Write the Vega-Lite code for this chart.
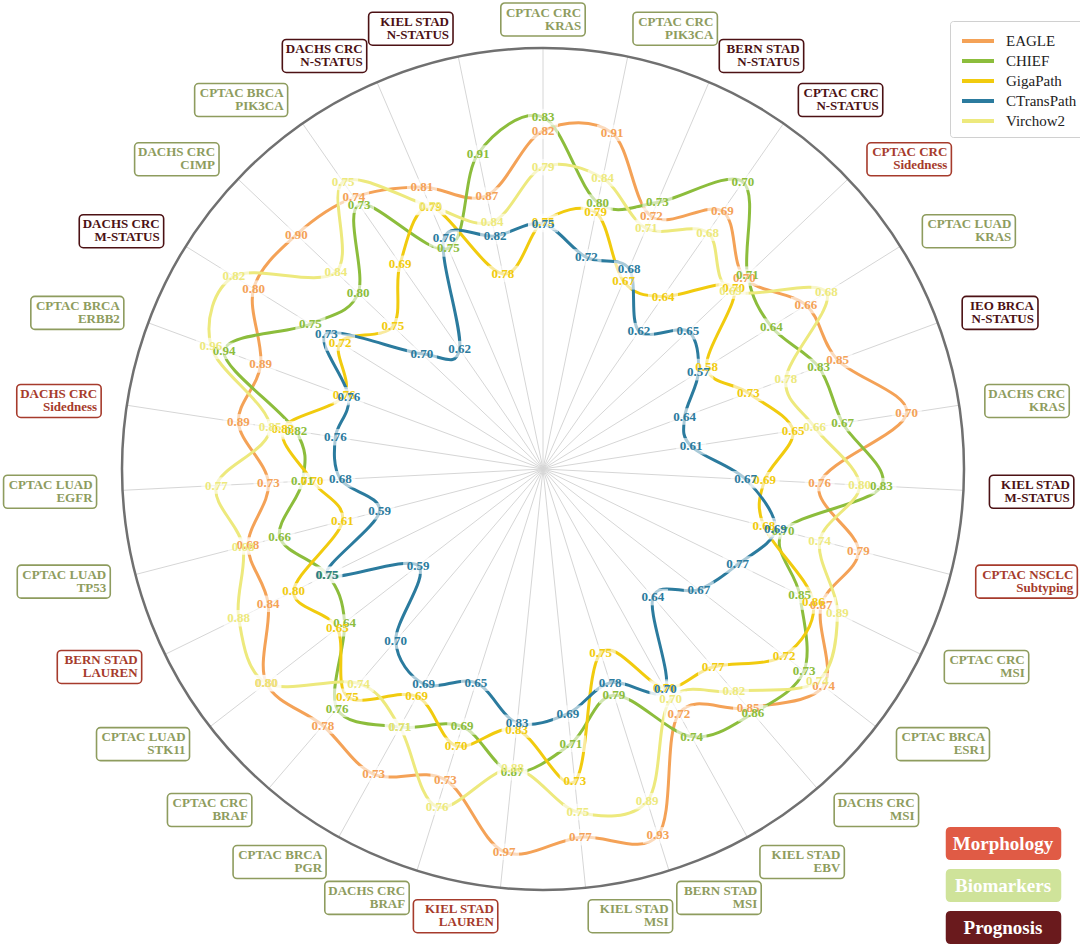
{
  "$schema": "https://vega.github.io/schema/vega-lite/v6.json",
  "width": 1080,
  "height": 946,
  "padding": 0,
  "autosize": {"type": "none"},
  "background": "white",
  "config": {"view": {"stroke": null}, "font": "Liberation Serif"},
  "resolve": {"scale": {"color": "independent"}, "legend": {"color": "independent"}},
  "datasets": {
    "tasks": [
      {"k": 1, "l1": "CPTAC CRC", "l2": "KRAS", "type": "Biomarkers"},
      {"k": 2, "l1": "CPTAC CRC", "l2": "PIK3CA", "type": "Biomarkers"},
      {"k": 3, "l1": "BERN STAD", "l2": "N-STATUS", "type": "Prognosis"},
      {"k": 4, "l1": "CPTAC CRC", "l2": "N-STATUS", "type": "Prognosis"},
      {"k": 5, "l1": "CPTAC CRC", "l2": "Sidedness", "type": "Morphology"},
      {"k": 6, "l1": "CPTAC LUAD", "l2": "KRAS", "type": "Biomarkers"},
      {"k": 7, "l1": "IEO BRCA", "l2": "N-STATUS", "type": "Prognosis"},
      {"k": 8, "l1": "DACHS CRC", "l2": "KRAS", "type": "Biomarkers"},
      {"k": 9, "l1": "KIEL STAD", "l2": "M-STATUS", "type": "Prognosis"},
      {"k": 10, "l1": "CPTAC NSCLC", "l2": "Subtyping", "type": "Morphology"},
      {"k": 11, "l1": "CPTAC CRC", "l2": "MSI", "type": "Biomarkers"},
      {"k": 12, "l1": "CPTAC BRCA", "l2": "ESR1", "type": "Biomarkers"},
      {"k": 13, "l1": "DACHS CRC", "l2": "MSI", "type": "Biomarkers"},
      {"k": 14, "l1": "KIEL STAD", "l2": "EBV", "type": "Biomarkers"},
      {"k": 15, "l1": "BERN STAD", "l2": "MSI", "type": "Biomarkers"},
      {"k": 16, "l1": "KIEL STAD", "l2": "MSI", "type": "Biomarkers"},
      {"k": 17, "l1": "KIEL STAD", "l2": "LAUREN", "type": "Morphology"},
      {"k": 18, "l1": "DACHS CRC", "l2": "BRAF", "type": "Biomarkers"},
      {"k": 19, "l1": "CPTAC BRCA", "l2": "PGR", "type": "Biomarkers"},
      {"k": 20, "l1": "CPTAC CRC", "l2": "BRAF", "type": "Biomarkers"},
      {"k": 21, "l1": "CPTAC LUAD", "l2": "STK11", "type": "Biomarkers"},
      {"k": 22, "l1": "BERN STAD", "l2": "LAUREN", "type": "Morphology"},
      {"k": 23, "l1": "CPTAC LUAD", "l2": "TP53", "type": "Biomarkers"},
      {"k": 24, "l1": "CPTAC LUAD", "l2": "EGFR", "type": "Biomarkers"},
      {"k": 25, "l1": "DACHS CRC", "l2": "Sidedness", "type": "Morphology"},
      {"k": 26, "l1": "CPTAC BRCA", "l2": "ERBB2", "type": "Biomarkers"},
      {"k": 27, "l1": "DACHS CRC", "l2": "M-STATUS", "type": "Prognosis"},
      {"k": 28, "l1": "DACHS CRC", "l2": "CIMP", "type": "Biomarkers"},
      {"k": 29, "l1": "CPTAC BRCA", "l2": "PIK3CA", "type": "Biomarkers"},
      {"k": 30, "l1": "DACHS CRC", "l2": "N-STATUS", "type": "Prognosis"},
      {"k": 31, "l1": "KIEL STAD", "l2": "N-STATUS", "type": "Prognosis"}
    ],
    "scores": [
      {"k": 1, "model": "EAGLE", "auc": 0.82, "radial": 0.803},
      {"k": 2, "model": "EAGLE", "auc": 0.91, "radial": 0.815},
      {"k": 3, "model": "EAGLE", "auc": 0.72, "radial": 0.653},
      {"k": 4, "model": "EAGLE", "auc": 0.69, "radial": 0.746},
      {"k": 5, "model": "EAGLE", "auc": 0.70, "radial": 0.660},
      {"k": 6, "model": "EAGLE", "auc": 0.66, "radial": 0.736},
      {"k": 7, "model": "EAGLE", "auc": 0.85, "radial": 0.746},
      {"k": 8, "model": "EAGLE", "auc": 0.70, "radial": 0.874},
      {"k": 9, "model": "EAGLE", "auc": 0.76, "radial": 0.658},
      {"k": 10, "model": "EAGLE", "auc": 0.79, "radial": 0.774},
      {"k": 11, "model": "EAGLE", "auc": 0.87, "radial": 0.736},
      {"k": 12, "model": "EAGLE", "auc": 0.74, "radial": 0.843},
      {"k": 13, "model": "EAGLE", "auc": 0.85, "radial": 0.748},
      {"k": 14, "model": "EAGLE", "auc": 0.72, "radial": 0.665},
      {"k": 15, "model": "EAGLE", "auc": 0.93, "radial": 0.912},
      {"k": 16, "model": "EAGLE", "auc": 0.77, "radial": 0.879},
      {"k": 17, "model": "EAGLE", "auc": 0.97, "radial": 0.914},
      {"k": 18, "model": "EAGLE", "auc": 0.73, "radial": 0.774},
      {"k": 19, "model": "EAGLE", "auc": 0.73, "radial": 0.829},
      {"k": 20, "model": "EAGLE", "auc": 0.78, "radial": 0.803},
      {"k": 21, "model": "EAGLE", "auc": 0.80, "radial": 0.831},
      {"k": 22, "model": "EAGLE", "auc": 0.84, "radial": 0.727},
      {"k": 23, "model": "EAGLE", "auc": 0.68, "radial": 0.724},
      {"k": 24, "model": "EAGLE", "auc": 0.73, "radial": 0.653},
      {"k": 25, "model": "EAGLE", "auc": 0.89, "radial": 0.732},
      {"k": 26, "model": "EAGLE", "auc": 0.89, "radial": 0.715},
      {"k": 27, "model": "EAGLE", "auc": 0.80, "radial": 0.810},
      {"k": 28, "model": "EAGLE", "auc": 0.90, "radial": 0.808},
      {"k": 29, "model": "EAGLE", "auc": 0.74, "radial": 0.786},
      {"k": 30, "model": "EAGLE", "auc": 0.81, "radial": 0.729},
      {"k": 31, "model": "EAGLE", "auc": 0.87, "radial": 0.663},
      {"k": 1, "model": "CHIEF", "auc": 0.83, "radial": 0.836},
      {"k": 2, "model": "CHIEF", "auc": 0.80, "radial": 0.646},
      {"k": 3, "model": "CHIEF", "auc": 0.73, "radial": 0.689},
      {"k": 4, "model": "CHIEF", "auc": 0.70, "radial": 0.831},
      {"k": 5, "model": "CHIEF", "auc": 0.71, "radial": 0.670},
      {"k": 6, "model": "CHIEF", "auc": 0.64, "radial": 0.639},
      {"k": 7, "model": "CHIEF", "auc": 0.83, "radial": 0.698},
      {"k": 8, "model": "CHIEF", "auc": 0.67, "radial": 0.720},
      {"k": 9, "model": "CHIEF", "auc": 0.83, "radial": 0.805},
      {"k": 10, "model": "CHIEF", "auc": 0.70, "radial": 0.589},
      {"k": 11, "model": "CHIEF", "auc": 0.85, "radial": 0.679},
      {"k": 12, "model": "CHIEF", "auc": 0.73, "radial": 0.784},
      {"k": 13, "model": "CHIEF", "auc": 0.86, "radial": 0.765},
      {"k": 14, "model": "CHIEF", "auc": 0.74, "radial": 0.727},
      {"k": 15, "model": "CHIEF", "auc": 0.79, "radial": 0.563},
      {"k": 16, "model": "CHIEF", "auc": 0.71, "radial": 0.656},
      {"k": 17, "model": "CHIEF", "auc": 0.87, "radial": 0.724},
      {"k": 18, "model": "CHIEF", "auc": 0.69, "radial": 0.641},
      {"k": 19, "model": "CHIEF", "auc": 0.71, "radial": 0.701},
      {"k": 20, "model": "CHIEF", "auc": 0.76, "radial": 0.751},
      {"k": 21, "model": "CHIEF", "auc": 0.64, "radial": 0.596},
      {"k": 22, "model": "CHIEF", "auc": 0.75, "radial": 0.570},
      {"k": 23, "model": "CHIEF", "auc": 0.66, "radial": 0.646},
      {"k": 24, "model": "CHIEF", "auc": 0.71, "radial": 0.572},
      {"k": 25, "model": "CHIEF", "auc": 0.82, "radial": 0.594},
      {"k": 26, "model": "CHIEF", "auc": 0.94, "radial": 0.808},
      {"k": 27, "model": "CHIEF", "auc": 0.75, "radial": 0.651},
      {"k": 28, "model": "CHIEF", "auc": 0.80, "radial": 0.606},
      {"k": 29, "model": "CHIEF", "auc": 0.73, "radial": 0.765},
      {"k": 30, "model": "CHIEF", "auc": 0.75, "radial": 0.570},
      {"k": 31, "model": "CHIEF", "auc": 0.91, "radial": 0.765},
      {"k": 1, "model": "GigaPath", "auc": 0.75, "radial": 0.587},
      {"k": 2, "model": "GigaPath", "auc": 0.79, "radial": 0.622},
      {"k": 3, "model": "GigaPath", "auc": 0.67, "radial": 0.485},
      {"k": 4, "model": "GigaPath", "auc": 0.64, "radial": 0.499},
      {"k": 5, "model": "GigaPath", "auc": 0.70, "radial": 0.625},
      {"k": 6, "model": "GigaPath", "auc": 0.58, "radial": 0.458},
      {"k": 7, "model": "GigaPath", "auc": 0.73, "radial": 0.520},
      {"k": 8, "model": "GigaPath", "auc": 0.65, "radial": 0.601},
      {"k": 9, "model": "GigaPath", "auc": 0.69, "radial": 0.527},
      {"k": 10, "model": "GigaPath", "auc": 0.68, "radial": 0.542},
      {"k": 11, "model": "GigaPath", "auc": 0.86, "radial": 0.715},
      {"k": 12, "model": "GigaPath", "auc": 0.72, "radial": 0.724},
      {"k": 13, "model": "GigaPath", "auc": 0.77, "radial": 0.620},
      {"k": 14, "model": "GigaPath", "auc": 0.70, "radial": 0.594},
      {"k": 15, "model": "GigaPath", "auc": 0.75, "radial": 0.458},
      {"k": 16, "model": "GigaPath", "auc": 0.73, "radial": 0.746},
      {"k": 17, "model": "GigaPath", "auc": 0.83, "radial": 0.622},
      {"k": 18, "model": "GigaPath", "auc": 0.70, "radial": 0.689},
      {"k": 19, "model": "GigaPath", "auc": 0.69, "radial": 0.618},
      {"k": 20, "model": "GigaPath", "auc": 0.75, "radial": 0.713},
      {"k": 21, "model": "GigaPath", "auc": 0.65, "radial": 0.618},
      {"k": 22, "model": "GigaPath", "auc": 0.80, "radial": 0.660},
      {"k": 23, "model": "GigaPath", "auc": 0.61, "radial": 0.492},
      {"k": 24, "model": "GigaPath", "auc": 0.70, "radial": 0.549},
      {"k": 25, "model": "GigaPath", "auc": 0.83, "radial": 0.625},
      {"k": 26, "model": "GigaPath", "auc": 0.76, "radial": 0.504},
      {"k": 27, "model": "GigaPath", "auc": 0.72, "radial": 0.568},
      {"k": 28, "model": "GigaPath", "auc": 0.75, "radial": 0.492},
      {"k": 29, "model": "GigaPath", "auc": 0.69, "radial": 0.594},
      {"k": 30, "model": "GigaPath", "auc": 0.79, "radial": 0.677},
      {"k": 31, "model": "GigaPath", "auc": 0.78, "radial": 0.473},
      {"k": 1, "model": "CTransPath", "auc": 0.75, "radial": 0.582},
      {"k": 2, "model": "CTransPath", "auc": 0.72, "radial": 0.513},
      {"k": 3, "model": "CTransPath", "auc": 0.68, "radial": 0.518},
      {"k": 4, "model": "CTransPath", "auc": 0.62, "radial": 0.399},
      {"k": 5, "model": "CTransPath", "auc": 0.65, "radial": 0.475},
      {"k": 6, "model": "CTransPath", "auc": 0.57, "radial": 0.435},
      {"k": 7, "model": "CTransPath", "auc": 0.64, "radial": 0.359},
      {"k": 8, "model": "CTransPath", "auc": 0.61, "radial": 0.356},
      {"k": 9, "model": "CTransPath", "auc": 0.67, "radial": 0.482},
      {"k": 10, "model": "CTransPath", "auc": 0.69, "radial": 0.570},
      {"k": 11, "model": "CTransPath", "auc": 0.77, "radial": 0.515},
      {"k": 12, "model": "CTransPath", "auc": 0.67, "radial": 0.468},
      {"k": 13, "model": "CTransPath", "auc": 0.64, "radial": 0.401},
      {"k": 14, "model": "CTransPath", "auc": 0.70, "radial": 0.599},
      {"k": 15, "model": "CTransPath", "auc": 0.78, "radial": 0.532},
      {"k": 16, "model": "CTransPath", "auc": 0.69, "radial": 0.584},
      {"k": 17, "model": "CTransPath", "auc": 0.83, "radial": 0.606},
      {"k": 18, "model": "CTransPath", "auc": 0.65, "radial": 0.532},
      {"k": 19, "model": "CTransPath", "auc": 0.69, "radial": 0.584},
      {"k": 20, "model": "CTransPath", "auc": 0.70, "radial": 0.537},
      {"k": 21, "model": "CTransPath", "auc": 0.59, "radial": 0.375},
      {"k": 22, "model": "CTransPath", "auc": 0.75, "radial": 0.572},
      {"k": 23, "model": "CTransPath", "auc": 0.59, "radial": 0.401},
      {"k": 24, "model": "CTransPath", "auc": 0.68, "radial": 0.482},
      {"k": 25, "model": "CTransPath", "auc": 0.76, "radial": 0.499},
      {"k": 26, "model": "CTransPath", "auc": 0.76, "radial": 0.492},
      {"k": 27, "model": "CTransPath", "auc": 0.73, "radial": 0.606},
      {"k": 28, "model": "CTransPath", "auc": 0.70, "radial": 0.397},
      {"k": 29, "model": "CTransPath", "auc": 0.62, "radial": 0.347},
      {"k": 30, "model": "CTransPath", "auc": 0.76, "radial": 0.596},
      {"k": 31, "model": "CTransPath", "auc": 0.82, "radial": 0.565},
      {"k": 1, "model": "Virchow2", "auc": 0.79, "radial": 0.717},
      {"k": 2, "model": "Virchow2", "auc": 0.84, "radial": 0.705},
      {"k": 3, "model": "Virchow2", "auc": 0.71, "radial": 0.622},
      {"k": 4, "model": "Virchow2", "auc": 0.68, "radial": 0.684},
      {"k": 5, "model": "Virchow2", "auc": 0.69, "radial": 0.615},
      {"k": 6, "model": "Virchow2", "auc": 0.68, "radial": 0.793},
      {"k": 7, "model": "Virchow2", "auc": 0.78, "radial": 0.615},
      {"k": 8, "model": "Virchow2", "auc": 0.66, "radial": 0.653},
      {"k": 9, "model": "Virchow2", "auc": 0.80, "radial": 0.753},
      {"k": 10, "model": "Virchow2", "auc": 0.74, "radial": 0.679},
      {"k": 11, "model": "Virchow2", "auc": 0.89, "radial": 0.779},
      {"k": 12, "model": "Virchow2", "auc": 0.74, "radial": 0.824},
      {"k": 13, "model": "Virchow2", "auc": 0.82, "radial": 0.696},
      {"k": 14, "model": "Virchow2", "auc": 0.70, "radial": 0.625},
      {"k": 15, "model": "Virchow2", "auc": 0.89, "radial": 0.827},
      {"k": 16, "model": "Virchow2", "auc": 0.75, "radial": 0.819},
      {"k": 17, "model": "Virchow2", "auc": 0.88, "radial": 0.715},
      {"k": 18, "model": "Virchow2", "auc": 0.76, "radial": 0.841},
      {"k": 19, "model": "Virchow2", "auc": 0.71, "radial": 0.701},
      {"k": 20, "model": "Virchow2", "auc": 0.74, "radial": 0.672},
      {"k": 21, "model": "Virchow2", "auc": 0.80, "radial": 0.831},
      {"k": 22, "model": "Virchow2", "auc": 0.88, "radial": 0.805},
      {"k": 23, "model": "Virchow2", "auc": 0.68, "radial": 0.736},
      {"k": 24, "model": "Virchow2", "auc": 0.77, "radial": 0.777},
      {"k": 25, "model": "Virchow2", "auc": 0.85, "radial": 0.656},
      {"k": 26, "model": "Virchow2", "auc": 0.96, "radial": 0.841},
      {"k": 27, "model": "Virchow2", "auc": 0.82, "radial": 0.865},
      {"k": 28, "model": "Virchow2", "auc": 0.84, "radial": 0.679},
      {"k": 29, "model": "Virchow2", "auc": 0.75, "radial": 0.831},
      {"k": 30, "model": "Virchow2", "auc": 0.79, "radial": 0.679},
      {"k": 31, "model": "Virchow2", "auc": 0.84, "radial": 0.599}
    ]
  },
  "layer": [
    {
      "data": {"name": "tasks"},
      "transform": [
        {"calculate": "(datum.k - 1) * 2 * PI / 31", "as": "t"},
        {"calculate": "0", "as": "ox"},
        {"calculate": "421 * sin(datum.t)", "as": "sx"},
        {"calculate": "421 * cos(datum.t)", "as": "sy"}
      ],
      "mark": {"type": "rule", "color": "#d6d6d6", "strokeWidth": 1},
      "encoding": {
        "x": {"field": "ox", "type": "quantitative", "scale": {"domain": [-543, 537], "nice": false, "zero": false}, "axis": null},
        "y": {"field": "ox", "type": "quantitative", "scale": {"domain": [-477, 469], "nice": false, "zero": false}, "axis": null},
        "x2": {"field": "sx"},
        "y2": {"field": "sy"}
      }
    },
    {
      "data": {"values": [{"ring": 0}]},
      "mark": {"type": "point", "shape": "circle", "filled": false, "size": 708964, "stroke": "#707070", "strokeWidth": 2.5, "opacity": 1},
      "encoding": {
        "x": {"field": "ring", "type": "quantitative", "axis": null},
        "y": {"field": "ring", "type": "quantitative", "axis": null}
      }
    },
    {
      "data": {"name": "tasks"},
      "transform": [
        {"calculate": "0", "as": "ox"}
      ],
      "mark": {"type": "point", "filled": true, "size": 0, "opacity": 0},
      "encoding": {
        "x": {"field": "ox", "type": "quantitative", "axis": null},
        "y": {"field": "ox", "type": "quantitative", "axis": null},
        "fill": {
          "field": "type",
          "type": "nominal",
          "scale": {"domain": ["Morphology", "Biomarkers", "Prognosis"], "range": ["#e05b45", "#cfe39a", "#6a1a1d"]},
          "legend": {
            "orient": "none",
            "legendX": 987,
            "legendY": 827,
            "title": null,
            "padding": 0,
            "symbolType": "M-3.2,-1H3.2Q3.5,-1 3.5,-0.7V0.7Q3.5,1 3.2,1H-3.2Q-3.5,1 -3.5,0.7V-0.7Q-3.5,-1 -3.2,-1Z",
            "symbolSize": 1089,
            "symbolOpacity": 1,
            "symbolStrokeWidth": 0,
            "rowPadding": 9,
            "labelAlign": "center",
            "labelOffset": -17,
            "labelFont": "Liberation Serif",
            "labelFontSize": 19,
            "labelFontWeight": "bold",
            "labelColor": "white"
          }
        }
      }
    },
    {
      "data": {"name": "scores"},
      "transform": [
        {"calculate": "(datum.k - 1) * 2 * PI / 31", "as": "t"},
        {"calculate": "421 * datum.radial * sin(datum.t)", "as": "px"},
        {"calculate": "421 * datum.radial * cos(datum.t)", "as": "py"}
      ],
      "mark": {"type": "line", "interpolate": "cardinal-closed", "strokeWidth": 3},
      "encoding": {
        "x": {"field": "px", "type": "quantitative", "axis": null},
        "y": {"field": "py", "type": "quantitative", "axis": null},
        "order": {"field": "k", "type": "quantitative"},
        "color": {
          "field": "model",
          "type": "nominal",
          "scale": {
            "domain": ["EAGLE", "CHIEF", "GigaPath", "CTransPath", "Virchow2"],
            "range": ["#f4a257", "#8cbd3c", "#f1cb0e", "#2b7b9e", "#ede97d"]
          },
          "legend": {
            "orient": "none",
            "legendX": 950,
            "legendY": 21,
            "title": null,
            "symbolType": "M-1.6,0H1.6",
            "symbolSize": 400,
            "symbolStrokeWidth": 4,
            "symbolOffset": 8,
            "labelOffset": 16,
            "labelFont": "Liberation Serif",
            "labelFontSize": 15,
            "labelColor": "#222222",
            "rowPadding": 0,
            "padding": 8,
            "strokeColor": "#d0d0d0",
            "fillColor": "white",
            "cornerRadius": 3
          }
        }
      }
    },
    {
      "data": {"name": "scores"},
      "transform": [
        {"calculate": "(datum.k - 1) * 2 * PI / 31", "as": "t"},
        {"calculate": "421 * datum.radial * sin(datum.t)", "as": "px"},
        {"calculate": "421 * datum.radial * cos(datum.t)", "as": "py"}
      ],
      "mark": {"type": "point", "shape": "M-1,-0.55H1V0.55H-1Z", "filled": true, "color": "white", "opacity": 0.6, "size": 900, "strokeWidth": 0},
      "encoding": {
        "x": {"field": "px", "type": "quantitative", "axis": null},
        "y": {"field": "py", "type": "quantitative", "axis": null}
      }
    },
    {
      "data": {"name": "scores"},
      "transform": [
        {"calculate": "(datum.k - 1) * 2 * PI / 31", "as": "t"},
        {"calculate": "421 * datum.radial * sin(datum.t)", "as": "px"},
        {"calculate": "421 * datum.radial * cos(datum.t)", "as": "py"}
      ],
      "mark": {"type": "text", "font": "Liberation Serif", "fontSize": 13, "fontWeight": "bold", "align": "center", "baseline": "middle"},
      "encoding": {
        "x": {"field": "px", "type": "quantitative", "axis": null},
        "y": {"field": "py", "type": "quantitative", "axis": null},
        "text": {"field": "auc", "type": "quantitative", "format": ".2f"},
        "color": {
          "field": "model",
          "type": "nominal",
          "scale": {
            "domain": ["EAGLE", "CHIEF", "GigaPath", "CTransPath", "Virchow2"],
            "range": ["#f4a257", "#8cbd3c", "#f1cb0e", "#2b7b9e", "#ede97d"]
          },
          "legend": null
        }
      }
    },
    {
      "data": {"name": "tasks"},
      "transform": [
        {"calculate": "(datum.k - 1) * 2 * PI / 31", "as": "t"},
        {"calculate": "sin(datum.t)", "as": "s"},
        {"calculate": "cos(datum.t)", "as": "c"},
        {"calculate": "8.6 * max(length(datum.l1), length(datum.l2)) + 7", "as": "w"},
        {"calculate": "abs(datum.s) < 0.1 ? 447 * datum.s : (datum.s > 0 ? 447 * datum.s + datum.w / 2 : 447 * datum.s - datum.w / 2)", "as": "cx"},
        {"calculate": "433 * datum.c + 16.5 * datum.c", "as": "cy"},
        {"calculate": "datum.cx - datum.w / 2", "as": "bx1"},
        {"calculate": "datum.cx + datum.w / 2", "as": "bx2"},
        {"calculate": "datum.cy - 16.5", "as": "by1"},
        {"calculate": "datum.cy + 16.5", "as": "by2"}
      ],
      "mark": {"type": "rect", "cornerRadius": 4, "fill": "white", "strokeWidth": 1.6},
      "encoding": {
        "x": {"field": "bx1", "type": "quantitative", "axis": null},
        "x2": {"field": "bx2"},
        "y": {"field": "by1", "type": "quantitative", "axis": null},
        "y2": {"field": "by2"},
        "stroke": {
          "field": "type",
          "type": "nominal",
          "scale": {"domain": ["Morphology", "Biomarkers", "Prognosis"], "range": ["#a63b2c", "#8e9c5e", "#4c1114"]},
          "legend": null
        }
      }
    },
    {
      "data": {"name": "tasks"},
      "transform": [
        {"calculate": "(datum.k - 1) * 2 * PI / 31", "as": "t"},
        {"calculate": "sin(datum.t)", "as": "s"},
        {"calculate": "cos(datum.t)", "as": "c"},
        {"calculate": "8.6 * max(length(datum.l1), length(datum.l2)) + 7", "as": "w"},
        {"calculate": "abs(datum.s) < 0.1 ? 447 * datum.s : (datum.s > 0 ? 447 * datum.s + datum.w / 2 : 447 * datum.s - datum.w / 2)", "as": "cx"},
        {"calculate": "433 * datum.c + 16.5 * datum.c", "as": "cy"},
        {"calculate": "datum.cx + datum.w / 2 - 4", "as": "tx"},
        {"calculate": "datum.cy + 13", "as": "ty"},
        {"calculate": "[datum.l1, datum.l2]", "as": "lines"}
      ],
      "mark": {"type": "text", "align": "right", "baseline": "top", "font": "Liberation Serif", "fontSize": 13, "fontWeight": "bold", "lineHeight": 13},
      "encoding": {
        "x": {"field": "tx", "type": "quantitative", "axis": null},
        "y": {"field": "ty", "type": "quantitative", "axis": null},
        "text": {"field": "lines", "type": "nominal"},
        "color": {
          "field": "type",
          "type": "nominal",
          "scale": {"domain": ["Morphology", "Biomarkers", "Prognosis"], "range": ["#a63b2c", "#8e9c5e", "#4c1114"]},
          "legend": null
        }
      }
    }
  ]
}
